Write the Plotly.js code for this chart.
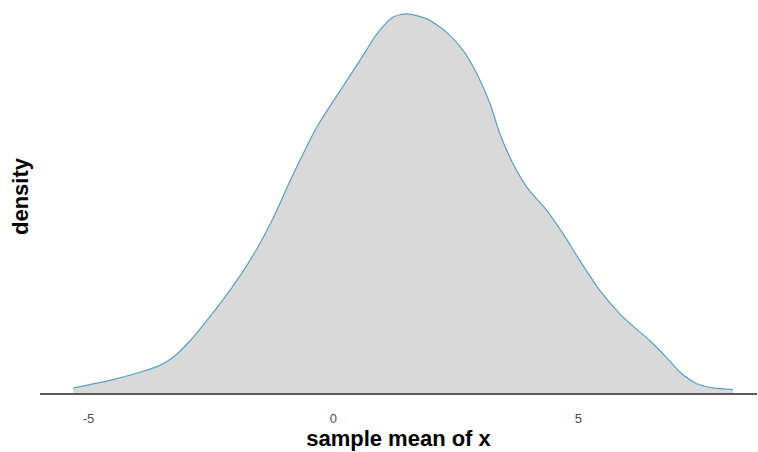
<!DOCTYPE html>
<html>
<head>
<meta charset="utf-8">
<script src="https://cdn.plot.ly/plotly-3.0.1.min.js"></script>
<style>
  html, body { margin: 0; padding: 0; background: #ffffff; }
  #chart { width: 758px; height: 452px; }
</style>
</head>
<body>
<div id="chart"></div>
<script>
// Kernel density estimate of the sample mean of x
const sampleMean = [-5.31, -4.56, -3.95, -3.54, -3.27, -2.92, -2.58, -2.24, -1.90, -1.56,
  -1.22, -0.88, -0.68, -0.34, 0.14, 0.54, 0.89, 1.22, 1.50, 1.91,
  2.31, 2.65, 2.93, 3.20, 3.40, 3.67, 3.95, 4.36, 4.69, 5.03,
  5.44, 5.85, 6.16, 6.46, 6.80, 7.08, 7.42, 7.76, 8.16];
const density = [0.0017, 0.0042, 0.0069, 0.0092, 0.0119, 0.0175, 0.0242, 0.0314, 0.0392, 0.0481,
  0.0586, 0.0708, 0.0777, 0.0886, 0.1008, 0.1108, 0.1197, 0.1253, 0.1264, 0.1247,
  0.1203, 0.1142, 0.1064, 0.0964, 0.0864, 0.0764, 0.0686, 0.0608, 0.0531, 0.0442,
  0.0342, 0.0264, 0.0217, 0.0175, 0.0119, 0.0069, 0.0031, 0.0017, 0.0011];
const xTicks = [-5, 0, 5];
const xTickText = ['-5', '0', '5'];

const trace = {
  x: sampleMean,
  y: density,
  type: 'scatter',
  mode: 'lines',
  line: { color: '#5a9fc6', width: 1.2, shape: 'spline', smoothing: 0.7 },
  fill: 'tozeroy',
  fillcolor: '#d9d9d9',
  hoverinfo: 'x+y'
};

const layout = {
  width: 758,
  height: 452,
  margin: { l: 40, r: 1, t: 0, b: 59 },
  paper_bgcolor: '#ffffff',
  plot_bgcolor: '#ffffff',
  showlegend: false,
  font: { family: 'Liberation Sans, Arial, sans-serif', color: '#000000' },
  xaxis: {
    range: [-5.99, 8.65],
    tickvals: xTicks,
    ticktext: xTickText,
    ticks: 'outside',
    ticklen: 12,
    tickcolor: 'rgba(0,0,0,0)',
    tickfont: { size: 13, color: '#4d4d4d' },
    showline: true,
    linecolor: '#5a5a5a',
    linewidth: 2,
    showgrid: false,
    zeroline: false,
    title: { text: 'sample mean of x', font: { size: 22, color: '#000000', weight: 'bold' }, standoff: 5 },
    automargin: false
  },
  yaxis: {
    range: [0, 0.131],
    showticklabels: false,
    ticks: '',
    showline: false,
    showgrid: false,
    zeroline: false,
    title: { text: 'density', font: { size: 22, color: '#000000', weight: 'bold' }, standoff: 4 },
    automargin: false
  }
};

Plotly.newPlot('chart', [trace], layout, { displayModeBar: false, staticPlot: true });
</script>
</body>
</html>
